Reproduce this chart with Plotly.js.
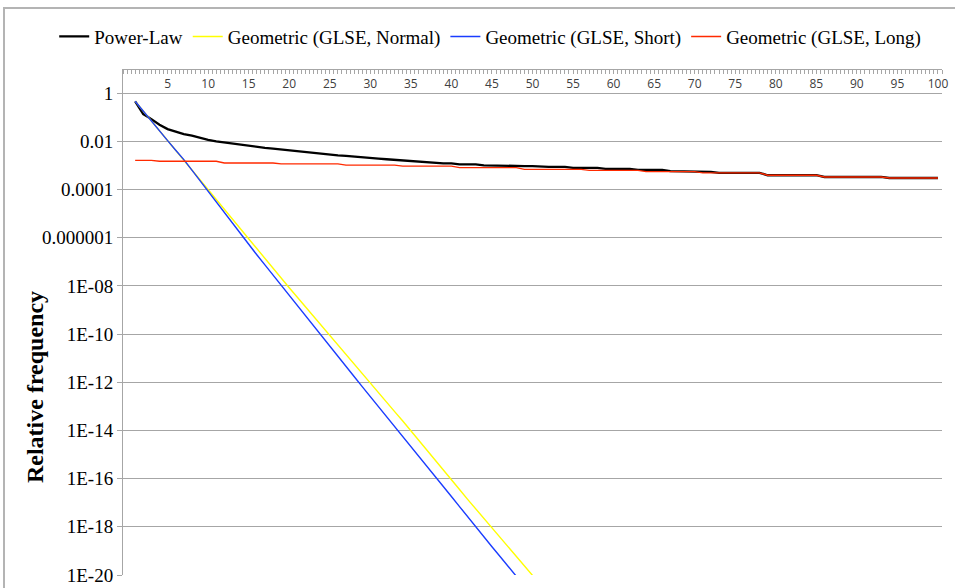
<!DOCTYPE html>
<html>
<head>
<meta charset="utf-8">
<script src="https://cdn.plot.ly/plotly-3.0.1.min.js"></script>
<style>
  html, body { margin: 0; padding: 0; background: #ffffff; }
  #wrap { position: relative; width: 955px; height: 588px; overflow: hidden; }
  #frame { position: absolute; left: 3px; top: 7px; width: 1000px; height: 700px;
           border-left: 2px solid #b4b4b4; border-top: 2px solid #b4b4b4; pointer-events: none; }
  #chart { position: absolute; left: 0; top: 0; width: 955px; height: 588px; }
</style>
</head>
<body>
<div id="wrap">
  <div id="chart"></div>
  <div id="frame"></div>
</div>
<script>
// Rank (category) values along the horizontal axis
const ranks = [1,2,3,4,5,6,7,8,9,10,11,12,13,14,15,16,17,18,19,20,
  21,22,23,24,25,26,27,28,29,30,31,32,33,34,35,36,37,38,39,40,
  41,42,43,44,45,46,47,48,49,50,51,52,53,54,55,56,57,58,59,60,
  61,62,63,64,65,66,67,68,69,70,71,72,73,74,75,76,77,78,79,80,
  81,82,83,84,85,86,87,88,89,90,91,92,93,94,95,96,97,98,99,100];

const seriesNames = ['Power-Law', 'Geometric (GLSE, Normal)', 'Geometric (GLSE, Short)', 'Geometric (GLSE, Long)'];

// Relative frequency per rank
const powerLaw = [0.457,0.135,0.083,0.049,0.032,0.025,0.020,0.017,0.0135,0.0115,
  0.0100,0.0089,0.0079,0.0071,0.0063,0.0058,0.0053,0.0050,0.0046,0.0042,
  0.0038,0.0035,0.0033,0.0030,0.0028,0.0026,0.0025,0.0023,0.0021,0.0020,
  0.0019,0.0018,0.0017,0.0016,0.0015,0.0014,0.0013,0.0013,0.0012,0.0012,
  0.0011,0.0011,0.0011,0.0010,0.0010,0.0010,0.00098,0.00096,0.00094,0.00093,
  0.00087,0.00087,0.00087,0.00087,0.00079,0.00079,0.00079,0.00079,0.00072,0.00072,
  0.00072,0.00072,0.00065,0.00065,0.00065,0.00065,0.00058,0.00058,0.00058,0.00058,
  0.00054,0.00054,0.00049,0.00049,0.00049,0.00049,0.00049,0.00049,0.00039,0.00039,
  0.00039,0.00039,0.00039,0.00039,0.00039,0.00033,0.00033,0.00033,0.00033,0.00033,
  0.00033,0.00033,0.00033,0.00030,0.00030,0.00030,0.00030,0.00030,0.00030,0.00030];

const geoNormal = [4.57e-1,1.78e-1,6.92e-2,2.69e-2,1.05e-2,4.07e-3,1.58e-3,6.17e-4,2.40e-4,9.33e-5,
  3.63e-5,1.41e-5,5.50e-6,2.14e-6,8.32e-7,3.31e-7,1.32e-7,5.25e-8,2.09e-8,8.32e-9,
  3.39e-9,1.35e-9,5.50e-10,2.19e-10,8.71e-11,3.55e-11,1.41e-11,5.75e-12,2.29e-12,9.33e-13,
  3.72e-13,1.51e-13,6.03e-14,2.45e-14,9.77e-15,3.80e-15,1.48e-15,5.75e-16,2.24e-16,8.91e-17,
  3.55e-17,1.38e-17,5.50e-18,2.14e-18,8.51e-19,3.47e-19,1.41e-19,5.75e-20,2.34e-20,9.55e-21,
  3.89e-21];

const geoShort = [4.57e-1,1.74e-1,6.76e-2,2.69e-2,1.07e-2,4.27e-3,1.74e-3,6.31e-4,2.29e-4,8.32e-5,
  3.02e-5,1.07e-5,3.80e-6,1.35e-6,5.13e-7,1.95e-7,7.41e-8,2.82e-8,1.10e-8,4.27e-9,
  1.62e-9,6.31e-10,2.40e-10,9.33e-11,3.39e-11,1.26e-11,4.68e-12,1.74e-12,6.61e-13,2.57e-13,
  1.00e-13,3.80e-14,1.48e-14,5.62e-15,2.19e-15,8.32e-16,3.24e-16,1.26e-16,4.79e-17,1.82e-17,
  6.92e-18,2.57e-18,9.55e-19,3.80e-19,1.48e-19,5.89e-20,2.29e-20,8.91e-21,3.47e-21];

const geoLong = [0.00162,0.00162,0.00162,0.00148,0.00148,0.00148,0.00148,0.00148,0.00148,0.00148,
  0.00148,0.00126,0.00126,0.00126,0.00126,0.00126,0.00126,0.00126,0.00115,0.00115,
  0.00115,0.00115,0.00115,0.00115,0.00115,0.00115,0.00102,0.00102,0.00102,0.00102,
  0.00102,0.00102,0.00102,0.00093,0.00093,0.00093,0.00093,0.00093,0.00093,0.00093,
  0.00081,0.00081,0.00081,0.00081,0.00081,0.00081,0.00081,0.00081,0.00068,0.00068,
  0.00068,0.00068,0.00068,0.00068,0.00068,0.00068,0.00062,0.00062,0.00062,0.00062,
  0.00062,0.00062,0.00062,0.00055,0.00055,0.00055,0.00055,0.00055,0.00055,0.00055,
  0.00049,0.00049,0.00049,0.00049,0.00049,0.00049,0.00049,0.00049,0.00039,0.00039,
  0.00039,0.00039,0.00039,0.00039,0.00039,0.00033,0.00033,0.00033,0.00033,0.00033,
  0.00033,0.00033,0.00033,0.00030,0.00030,0.00030,0.00030,0.00030,0.00030,0.00030];

// Axis tick labels
const xTickVals = [5,10,15,20,25,30,35,40,45,50,55,60,65,70,75,80,85,90,95,100];
const xTickText = ['5','10','15','20','25','30','35','40','45','50','55','60','65','70','75','80','85','90','95','100'];
const yTickVals = [1,1e-2,1e-4,1e-6,1e-8,1e-10,1e-12,1e-14,1e-16,1e-18,1e-20];
const yTickText = ['1','0.01','0.0001','0.000001','1E-08','1E-10','1E-12','1E-14','1E-16','1E-18','1E-20'];

const colors = ['#000000', '#ffff00', '#1a3cff', '#ff2a00'];
const widths = [2.3, 1.4, 1.4, 1.4];
const values = [powerLaw, geoNormal, geoShort, geoLong];

const traces = values.map((v, i) => ({
  type: 'scatter',
  mode: 'lines',
  name: seriesNames[i],
  x: ranks.slice(0, v.length),
  y: v,
  line: { color: colors[i], width: widths[i] },
  hoverinfo: 'x+y+name'
}));

const serif = 'Liberation Serif, Times New Roman, serif';
const gridGray = '#a6a6a6';

const layout = {
  width: 955,
  height: 588,
  margin: { l: 123, r: 13, t: 69, b: 13 },
  paper_bgcolor: '#ffffff',
  plot_bgcolor: '#ffffff',
  showlegend: true,
  legend: {
    orientation: 'h',
    x: -0.084, xanchor: 'left',
    y: 1.064, yanchor: 'middle',
    font: { family: serif, size: 19, color: '#000000' },
    bgcolor: 'rgba(0,0,0,0)',
    itemclick: false
  },
  xaxis: {
    type: 'linear',
    range: [-0.5, 100.5],
    anchor: 'free',
    position: 1,
    side: 'bottom',
    showline: true,
    linecolor: gridGray,
    linewidth: 1,
    showgrid: false,
    zeroline: false,
    tickmode: 'array',
    tickvals: xTickVals,
    ticktext: xTickText,
    ticks: 'outside',
    ticklen: 4,
    tickcolor: gridGray,
    minor: { tick0: 0, dtick: 0.5, ticks: 'outside', ticklen: 4, tickcolor: gridGray, showgrid: false },
    tickfont: { family: 'Open Sans, sans-serif', size: 12, color: '#404040' },
    fixedrange: true
  },
  yaxis: {
    type: 'log',
    range: [-20, 1],
    showline: true,
    linecolor: gridGray,
    linewidth: 1,
    zeroline: false,
    tickmode: 'array',
    tickvals: yTickVals,
    ticktext: yTickText,
    ticks: 'outside',
    ticklen: 5,
    tickcolor: gridGray,
    showgrid: true,
    gridcolor: gridGray,
    gridwidth: 1,
    tickfont: { family: serif, size: 19, color: '#000000' },
    fixedrange: true
  },
  annotations: [{
    text: '<b>Relative frequency</b>',
    xref: 'paper', yref: 'paper',
    x: -0.1074, y: 0.3715,
    xanchor: 'center', yanchor: 'middle',
    textangle: -90,
    showarrow: false,
    font: { family: serif, size: 24, color: '#000000' }
  }]
};

Plotly.newPlot('chart', traces, layout, { displayModeBar: false, staticPlot: true });
</script>
</body>
</html>
